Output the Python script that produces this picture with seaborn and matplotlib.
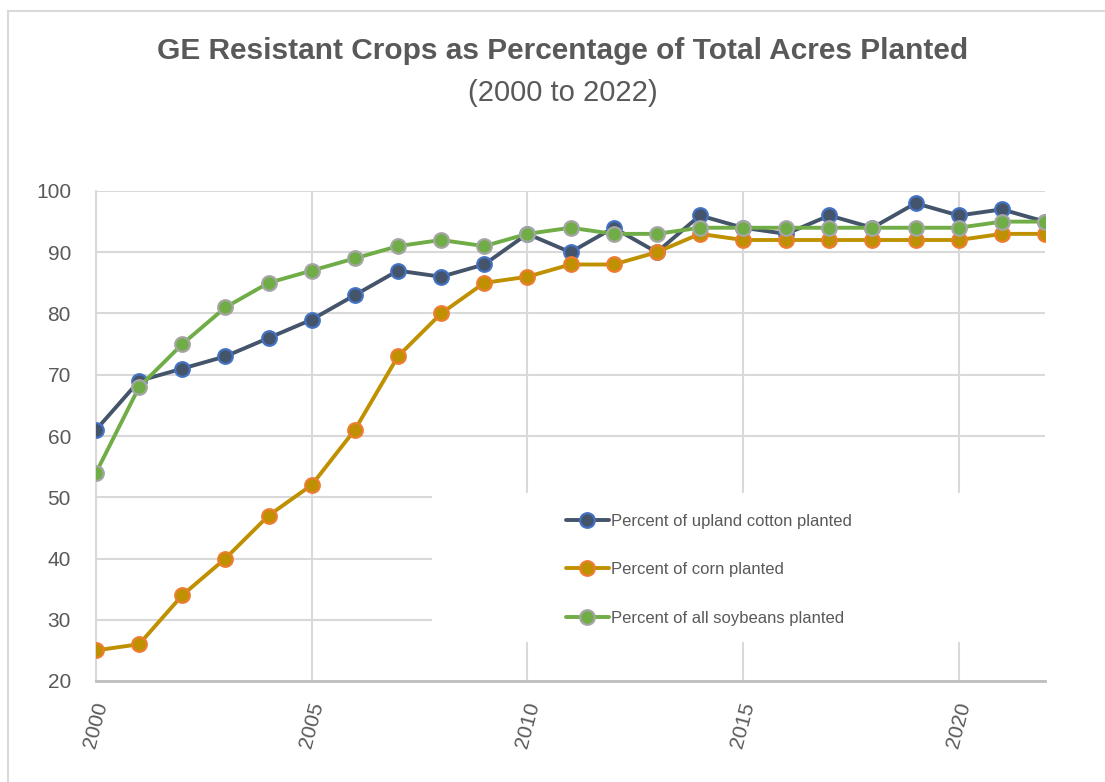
import matplotlib
matplotlib.use("Agg")
import matplotlib.pyplot as plt
from matplotlib.patches import Rectangle
import seaborn as sns
import pandas as pd

# values
years = list(range(2000, 2023))
cotton = [61, 69, 71, 73, 76, 79, 83, 87, 86, 88, 93, 90, 94, 90, 96, 94, 93, 96, 94, 98, 96, 97, 95]
corn = [25, 26, 34, 40, 47, 52, 61, 73, 80, 85, 86, 88, 88, 90, 93, 92, 92, 92, 92, 92, 92, 93, 93]
soybeans = [54, 68, 75, 81, 85, 87, 89, 91, 92, 91, 93, 94, 93, 93, 94, 94, 94, 94, 94, 94, 94, 95, 95]
series_names = ["Percent of upland cotton planted", "Percent of corn planted", "Percent of all soybeans planted"]
x_ticks = [2000, 2005, 2010, 2015, 2020]
y_ticks = [20, 30, 40, 50, 60, 70, 80, 90, 100]

df = pd.DataFrame({"year": years, series_names[0]: cotton, series_names[1]: corn, series_names[2]: soybeans})

sns.set_style("white")
plt.rcParams['font.family'] = ['Liberation Sans', 'DejaVu Sans']

text_col = "#595959"
grid_col = "#d9d9d9"
line_cols = ["#44546A", "#BF9000", "#70AD47"]
edge_cols = ["#4472C4", "#ED7D31", "#A5A5A5"]

fig = plt.figure(figsize=(11.05, 7.82), dpi=100)
fig.patches.append(Rectangle((8 / 1105, -0.1), 1.2, 1 - 11 / 782 + 0.1, transform=fig.transFigure,
                             facecolor="none", edgecolor=grid_col, linewidth=1.5))
ax = fig.add_axes([96 / 1105, 1 - 681 / 782, (1045 - 96) / 1105, (681 - 191) / 782])

for i, name in enumerate(series_names):
    sns.lineplot(data=df, x="year", y=name, ax=ax, color=line_cols[i], linewidth=2.8,
                 marker="o", markersize=10.5, markerfacecolor=line_cols[i],
                 markeredgecolor=edge_cols[i], markeredgewidth=1.6, label=name, zorder=3 + i)

ax.set_xlim(2000, 2022)
ax.set_ylim(20, 100)
ax.set_xticks(x_ticks)
ax.set_yticks(y_ticks)
ax.set_xlabel("")
ax.set_ylabel("")
ax.grid(True, color=grid_col, linewidth=1.5)
ax.set_axisbelow(True)
for s in ["top", "right"]:
    ax.spines[s].set_visible(False)
ax.spines["left"].set_color(grid_col)
ax.spines["left"].set_linewidth(1.5)
ax.spines["bottom"].set_color("#bfbfbf")
ax.spines["bottom"].set_linewidth(2)
ax.tick_params(axis="y", length=0, pad=18, labelsize=15, labelcolor=text_col)
ax.tick_params(axis="x", length=0, pad=14, labelsize=15, labelcolor=text_col)
plt.setp(ax.get_xticklabels(), rotation=75, ha="center", va="top")

# white legend area hiding the gridlines
ax.add_patch(Rectangle((0.354, 0.08), 0.66, 0.304, transform=ax.transAxes,
                       facecolor="white", edgecolor="none", zorder=1.8, clip_on=False))
leg = ax.legend(loc="upper left", bbox_to_anchor=(0.486, 0.358), frameon=False, fontsize=12,
                handlelength=2.6, handletextpad=0.15, labelspacing=2.0, borderpad=0)
for t in leg.get_texts():
    t.set_color(text_col)

fig.text(0.509, 0.935, "GE Resistant Crops as Percentage of Total Acres Planted",
         ha="center", va="center", fontsize=21.5, fontweight="bold", color=text_col)
fig.text(0.509, 0.881, "(2000 to 2022)", ha="center", va="center", fontsize=21, color=text_col)

plt.savefig("out.png", dpi=100)
